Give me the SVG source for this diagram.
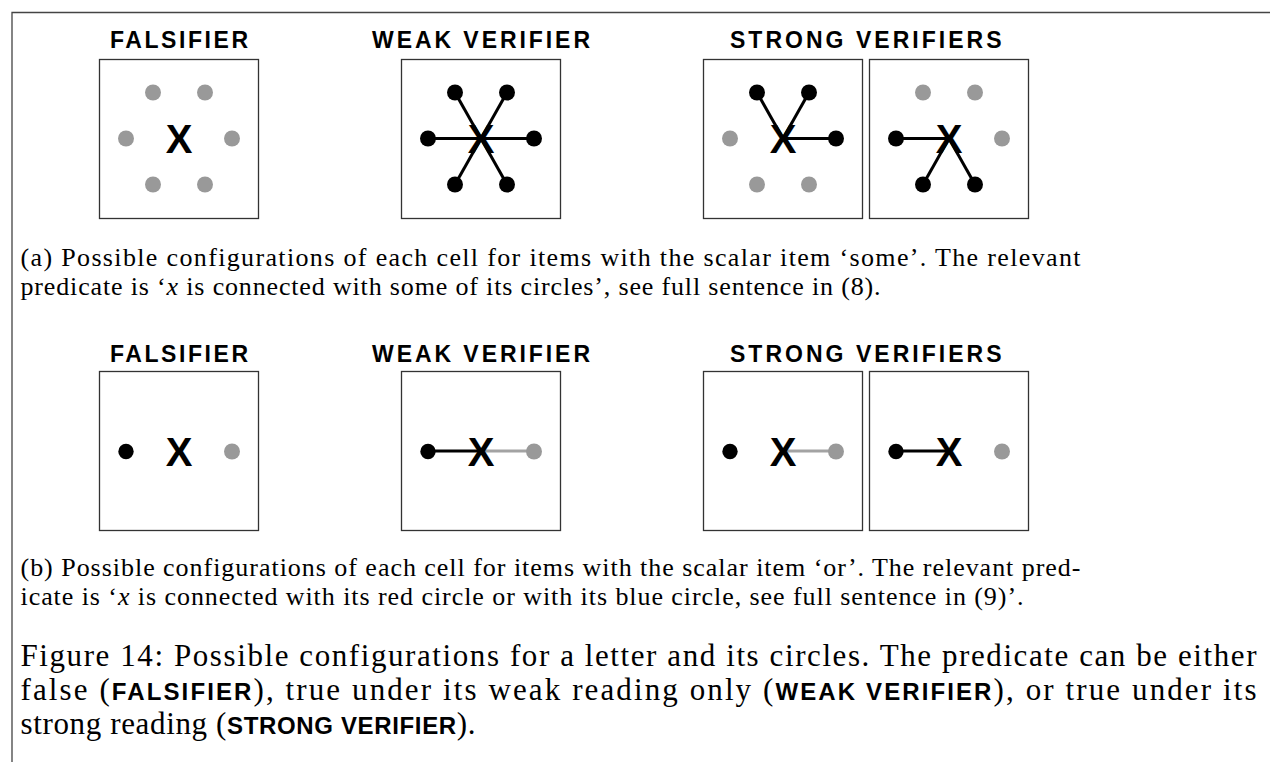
<svg xmlns="http://www.w3.org/2000/svg" width="1270" height="762" viewBox="0 0 1270 762">
<style>
.frame{stroke:#444;stroke-width:1.3;fill:none}
.box{fill:none;stroke:#333;stroke-width:1.3}
.title{font-family:"Liberation Sans",Arial,sans-serif;font-weight:bold;font-size:23px;fill:#000}
.xl{font-family:"Liberation Sans",Arial,sans-serif;font-weight:bold;font-size:40px;fill:#000;text-anchor:middle}
.g{fill:#999}
.k{fill:#000}
.lk{stroke:#000;stroke-width:3;fill:none}
.lg{stroke:#a3a3a3;stroke-width:3;fill:none}
.sub{font-family:"Liberation Serif","Times New Roman",serif;font-size:26px;fill:#000}
.cap{font-family:"Liberation Serif","Times New Roman",serif;font-size:31px;fill:#000}
.sf{font-family:"Liberation Sans",Arial,sans-serif;font-weight:bold;font-size:24px}
.it{font-style:italic}
</style>
<rect width="1270" height="762" fill="#fff"/>
<path class="frame" d="M12,762 V12.5 H1270"/>

<g id="connectors">
  <line class="lk" x1="455" y1="92.5" x2="481" y2="138.5"/>
  <line class="lk" x1="507" y1="92.5" x2="481" y2="138.5"/>
  <line class="lk" x1="428" y1="138.5" x2="481" y2="138.5"/>
  <line class="lk" x1="534" y1="138.5" x2="481" y2="138.5"/>
  <line class="lk" x1="455" y1="184.5" x2="481" y2="138.5"/>
  <line class="lk" x1="507" y1="184.5" x2="481" y2="138.5"/>
  <line class="lk" x1="757" y1="92.5" x2="783" y2="138.5"/>
  <line class="lk" x1="809" y1="92.5" x2="783" y2="138.5"/>
  <line class="lk" x1="836" y1="138.5" x2="783" y2="138.5"/>
  <line class="lk" x1="896" y1="138.5" x2="949" y2="138.5"/>
  <line class="lk" x1="923" y1="184.5" x2="949" y2="138.5"/>
  <line class="lk" x1="975" y1="184.5" x2="949" y2="138.5"/>
  <line class="lk" x1="428" y1="451" x2="481" y2="451"/>
  <line class="lg" x1="481" y1="451" x2="534" y2="451"/>
  <line class="lg" x1="783" y1="451" x2="836" y2="451"/>
  <line class="lk" x1="896" y1="451" x2="949" y2="451"/>
</g>

<g id="titles-a">
  <text class="title" x="110" y="47.7" textLength="138" lengthAdjust="spacing">FALSIFIER</text>
  <text class="title" x="372" y="47.7" textLength="218" lengthAdjust="spacing">WEAK VERIFIER</text>
  <text class="title" x="730" y="47.7" textLength="271.5" lengthAdjust="spacing">STRONG VERIFIERS</text>
</g>

<g id="a-falsifier">
  <rect class="box" x="99.5" y="59.5" width="159" height="159"/>
  <circle class="g" cx="153" cy="92.5" r="8"/>
  <circle class="g" cx="205" cy="92.5" r="8"/>
  <circle class="g" cx="126" cy="138.5" r="8"/>
  <circle class="g" cx="232" cy="138.5" r="8"/>
  <circle class="g" cx="153" cy="184.5" r="8"/>
  <circle class="g" cx="205" cy="184.5" r="8"/>
  <text class="xl" x="179" y="153.3">X</text>
</g>

<g id="a-weak">
  <rect class="box" x="401.5" y="59.5" width="159" height="159"/>
  <text class="xl" x="481" y="153.3">X</text>
  <circle class="k" cx="455" cy="92.5" r="8"/>
  <circle class="k" cx="507" cy="92.5" r="8"/>
  <circle class="k" cx="428" cy="138.5" r="8"/>
  <circle class="k" cx="534" cy="138.5" r="8"/>
  <circle class="k" cx="455" cy="184.5" r="8"/>
  <circle class="k" cx="507" cy="184.5" r="8"/>
</g>

<g id="a-strong1">
  <rect class="box" x="703.5" y="59.5" width="159" height="159"/>
  <text class="xl" x="783" y="153.3">X</text>
  <circle class="k" cx="757" cy="92.5" r="8"/>
  <circle class="k" cx="809" cy="92.5" r="8"/>
  <circle class="g" cx="730" cy="138.5" r="8"/>
  <circle class="k" cx="836" cy="138.5" r="8"/>
  <circle class="g" cx="757" cy="184.5" r="8"/>
  <circle class="g" cx="809" cy="184.5" r="8"/>
</g>

<g id="a-strong2">
  <rect class="box" x="869.5" y="59.5" width="159" height="159"/>
  <text class="xl" x="949" y="153.3">X</text>
  <circle class="g" cx="923" cy="92.5" r="8"/>
  <circle class="g" cx="975" cy="92.5" r="8"/>
  <circle class="k" cx="896" cy="138.5" r="8"/>
  <circle class="g" cx="1002" cy="138.5" r="8"/>
  <circle class="k" cx="923" cy="184.5" r="8"/>
  <circle class="k" cx="975" cy="184.5" r="8"/>
</g>

<g id="caption-a">
  <text class="sub" x="20.5" y="266" textLength="1060" lengthAdjust="spacing">(a) Possible configurations of each cell for items with the scalar item ‘some’.  The relevant</text>
  <text class="sub" x="20.5" y="295" textLength="860" lengthAdjust="spacing">predicate is ‘<tspan class="it">x</tspan> is connected with some of its circles’, see full sentence in (8).</text>
</g>

<g id="titles-b">
  <text class="title" x="110" y="361.5" textLength="138" lengthAdjust="spacing">FALSIFIER</text>
  <text class="title" x="372" y="361.5" textLength="218" lengthAdjust="spacing">WEAK VERIFIER</text>
  <text class="title" x="730" y="361.5" textLength="271.5" lengthAdjust="spacing">STRONG VERIFIERS</text>
</g>

<g id="b-falsifier">
  <rect class="box" x="99.5" y="371.5" width="159" height="159"/>
  <circle class="k" cx="126" cy="451.5" r="7.7"/>
  <circle class="g" cx="232" cy="451.5" r="8"/>
  <text class="xl" x="179" y="465.5">X</text>
</g>

<g id="b-weak">
  <rect class="box" x="401.5" y="371.5" width="159" height="159"/>
  <circle class="k" cx="428" cy="451.5" r="7.7"/>
  <circle class="g" cx="534" cy="451.5" r="8"/>
  <text class="xl" x="481" y="465.5">X</text>
</g>

<g id="b-strong1">
  <rect class="box" x="703.5" y="371.5" width="159" height="159"/>
  <circle class="k" cx="730" cy="451.5" r="7.7"/>
  <circle class="g" cx="836" cy="451.5" r="8"/>
  <text class="xl" x="783" y="465.5">X</text>
</g>

<g id="b-strong2">
  <rect class="box" x="869.5" y="371.5" width="159" height="159"/>
  <circle class="k" cx="896" cy="451.5" r="7.7"/>
  <circle class="g" cx="1002" cy="451.5" r="8"/>
  <text class="xl" x="949" y="465.5">X</text>
</g>

<g id="caption-b">
  <text class="sub" x="20.5" y="576" textLength="1060" lengthAdjust="spacing">(b) Possible configurations of each cell for items with the scalar item ‘or’. The relevant pred-</text>
  <text class="sub" x="20.5" y="605" textLength="1003" lengthAdjust="spacing">icate is ‘<tspan class="it">x</tspan> is connected with its red circle or with its blue circle, see full sentence in (9)’.</text>
</g>

<g id="figure-caption">
  <text class="cap" x="20.5" y="666" textLength="1236" lengthAdjust="spacing">Figure 14: Possible configurations for a letter and its circles.  The predicate can be either</text>
  <text class="cap" x="20.5" y="700" textLength="1236" lengthAdjust="spacing">false (<tspan class="sf">FALSIFIER</tspan>), true under its weak reading only (<tspan class="sf">WEAK VERIFIER</tspan>), or true under its</text>
  <text class="cap" x="20.5" y="734" textLength="455" lengthAdjust="spacing">strong reading (<tspan class="sf">STRONG VERIFIER</tspan>).</text>
</g>
</svg>
